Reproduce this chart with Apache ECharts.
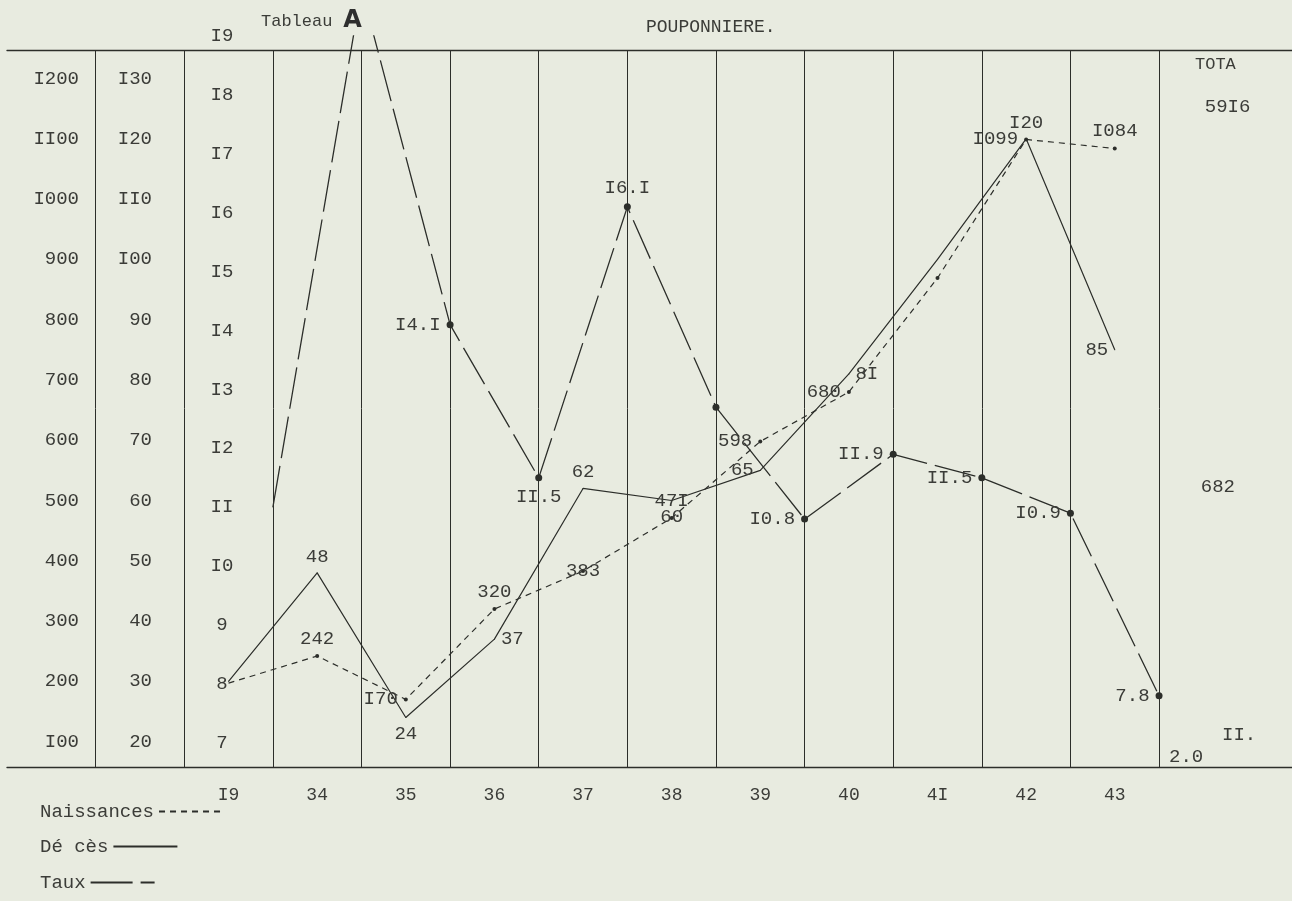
<!DOCTYPE html>
<html><head><meta charset="utf-8">
<script src="https://cdn.jsdelivr.net/npm/echarts@6/dist/echarts.min.js"></script>
<style>html,body{margin:0;padding:0;background:#e8ebe0;}#c{width:1292px;height:901px;}</style>
</head><body><div id="c"></div>
<script>
// ---- data ----
const years = [1933, 1934, 1935, 1936, 1937, 1938, 1939, 1940, 1941, 1942, 1943];
const naissances = [197, 242, 170, 320, 383, 471, 598, 680, 869, 1099, 1084];
const deces = [30, 48, 24, 37, 62, 60, 65, 81, 100, 120, 85];
const taux = [11.0, 19.8, 14.1, 11.5, 16.1, 12.7, 10.8, 11.9, 11.5, 10.9, 7.8];
const totalLabels = ['59I6', '682', 'II.', '2.0'];
const columnYears = [1931, 1932, 1933, 1934, 1935, 1936, 1937, 1938, 1939, 1940, 1941, 1942, 1943, 1944, 1945];
const xTickLabels = ['', '', 'I9', '34', '35', '36', '37', '38', '39', '40', '4I', '42', '43', '', ''];
const seriesNames = ['Naissances', 'Dé cès', 'Taux'];

// ---- styling (label placement per point, null = no label) ----
const naissLabelPos = [null, 'top', 'left', 'top', 'inside', 'top', 'left', 'left', null, 'left', 'top'];
const decesLabelPos = [null, 'top', 'bottom', 'right', 'top', 'bottom', 'left', 'right', null, 'top', 'left'];
const tauxLabelPos = [null, 'top', 'left', 'bottom', 'top', null, 'left', 'left', 'left', 'left', 'left'];

const FONT = 'Liberation Mono';
const INK = '#3b3c38';
const LINE = '#2c2e2a';
const COL = 88.62, LEFT = 7, WIDTH = 15 * COL;
const typo = v => String(v).replace(/1/g, 'I');
const labelBase = {fontFamily: FONT, fontSize: 19, color: INK, distance: 6,
  formatter: p => typo(p.value[1])};

function build(vals, shift, pos) {
  return years.map((y, i) => ({
    value: [y + shift, vals[i]],
    label: pos[i] ? {show: true, position: pos[i]} : {show: false}
  }));
}

const chart = echarts.init(document.getElementById('c'), null, {renderer: 'canvas'});
const axisLabelBase = {fontFamily: FONT, fontSize: 19, color: INK, margin: 0, formatter: typo};
const legendTops = [802, 837, 873];

chart.setOption({
  backgroundColor: '#e8ebe0',
  animation: false,
  textStyle: {fontFamily: FONT},
  title: [
    {text: '{a|Tableau} {b|A}', left: 256, top: 4,
     textStyle: {fontWeight: 'normal',
                 rich: {a: {fontFamily: FONT, fontSize: 17, fontWeight: 'normal', color: INK},
                        b: {fontFamily: 'DejaVu Sans', fontSize: 24, fontWeight: 'bold', color: '#2e2e2e'}}}},
    {text: 'POUPONNIERE.', left: 641, top: 13,
     textStyle: {fontFamily: FONT, fontSize: 18, fontWeight: 'normal', color: INK}},
    {text: 'TOTA', left: 1190, top: 51,
     textStyle: {fontFamily: FONT, fontSize: 17, fontWeight: 'normal', color: INK}}
  ],
  legend: seriesNames.map((n, i) => ({
    data: [n], orient: 'horizontal', left: 40, top: legendTops[i], align: 'right',
    itemWidth: 64, itemHeight: 14, padding: 0,
    itemStyle: {opacity: 0}, selectedMode: false,
    textStyle: {fontFamily: FONT, fontSize: 19, color: INK}
  })),
  grid: [
    {left: LEFT, top: 36, width: WIDTH, height: 765.9, containLabel: false, outerBoundsMode: 'none'},
    {left: LEFT, top: 50, width: WIDTH, height: 717, containLabel: false, outerBoundsMode: 'none'},
    {left: LEFT, top: 50, width: 13 * COL, height: 717, containLabel: false, outerBoundsMode: 'none'}
  ],
  xAxis: [
    {gridIndex: 0, type: 'value', min: 1931, max: 1946, show: false},
    {gridIndex: 1, type: 'category', data: columnYears.map(String), boundaryGap: true, position: 'bottom',
     axisLine: {show: true, onZero: false, lineStyle: {color: LINE, width: 1.4}},
     axisTick: {show: false}, splitLine: {show: false},
     axisLabel: {interval: 0, margin: 19, fontFamily: FONT, fontSize: 18, color: INK,
                 formatter: (v, i) => xTickLabels[i]}},
    {gridIndex: 1, type: 'value', min: 1931, max: 1946, position: 'top',
     axisLine: {show: true, onZero: false, lineStyle: {color: LINE, width: 1.4}},
     axisTick: {show: false}, axisLabel: {show: false}, splitLine: {show: false}},
    {gridIndex: 2, type: 'value', min: 1931, max: 1944, interval: 1, position: 'bottom',
     axisLine: {show: false}, axisTick: {show: false}, axisLabel: {show: false},
     splitLine: {show: true, showMinLine: false, showMaxLine: true,
                 lineStyle: {color: LINE, width: 1, type: 'solid'}}}
  ],
  yAxis: [
    {gridIndex: 0, type: 'value', min: 0, max: 1270.6, interval: 100, position: 'left', offset: -72,
     axisLine: {show: false}, axisTick: {show: false}, splitLine: {show: false},
     axisLabel: Object.assign({}, axisLabelBase, {showMinLabel: false, showMaxLabel: false})},
    {gridIndex: 0, type: 'value', min: 10, max: 137.06, interval: 10, position: 'left', offset: -145,
     axisLine: {show: false}, axisTick: {show: false}, splitLine: {show: false},
     axisLabel: Object.assign({}, axisLabelBase, {showMinLabel: false, showMaxLabel: false})},
    {gridIndex: 0, type: 'value', min: 6, max: 19, interval: 1, position: 'left', offset: -215,
     axisLine: {show: false}, axisTick: {show: false}, splitLine: {show: false},
     axisLabel: Object.assign({}, axisLabelBase, {align: 'center', showMinLabel: false, showMaxLabel: true})},
    {gridIndex: 1, type: 'value', min: 0, max: 1, show: false},
    {gridIndex: 2, type: 'value', min: 0, max: 1, show: false}
  ],
  series: [
    {name: seriesNames[0], type: 'line', xAxisIndex: 0, yAxisIndex: 0,
     data: build(naissances, 0.5, naissLabelPos),
     symbol: 'circle', symbolSize: (v, p) => p.dataIndex === 0 ? 0 : 4,
     itemStyle: {color: LINE}, lineStyle: {color: LINE, width: 1.2, type: [6, 5]},
     label: labelBase,
     endLabel: {show: true, formatter: totalLabels[0], offset: [82, -42],
                fontFamily: FONT, fontSize: 19, color: INK},
     z: 3},
    {name: seriesNames[1], type: 'line', xAxisIndex: 0, yAxisIndex: 1,
     data: build(deces, 0.5, decesLabelPos),
     symbol: 'circle', symbolSize: 1,
     itemStyle: {color: LINE}, lineStyle: {color: LINE, width: 1.2, type: 'solid'},
     label: labelBase,
     endLabel: {show: true, formatter: totalLabels[1], offset: [78, 137],
                fontFamily: FONT, fontSize: 19, color: INK},
     z: 3},
    {name: seriesNames[2], type: 'line', xAxisIndex: 0, yAxisIndex: 2,
     data: build(taux, 1, tauxLabelPos),
     symbol: 'circle', symbolSize: (v, p) => p.dataIndex === 0 ? 0 : 7,
     itemStyle: {color: LINE}, lineStyle: {color: LINE, width: 1.3, type: [42, 8]},
     label: labelBase,
     endLabel: {show: true, formatter: '{a|' + totalLabels[2] + '}\n{b|' + totalLabels[3] + '}',
                offset: [2, 50], fontFamily: FONT, fontSize: 19, color: INK,
                rich: {a: {fontFamily: FONT, fontSize: 19, color: INK, padding: [0, 0, 0, 53], lineHeight: 22},
                       b: {fontFamily: FONT, fontSize: 19, color: INK, lineHeight: 22}}},
     z: 3}
  ]
});
</script></body></html>
